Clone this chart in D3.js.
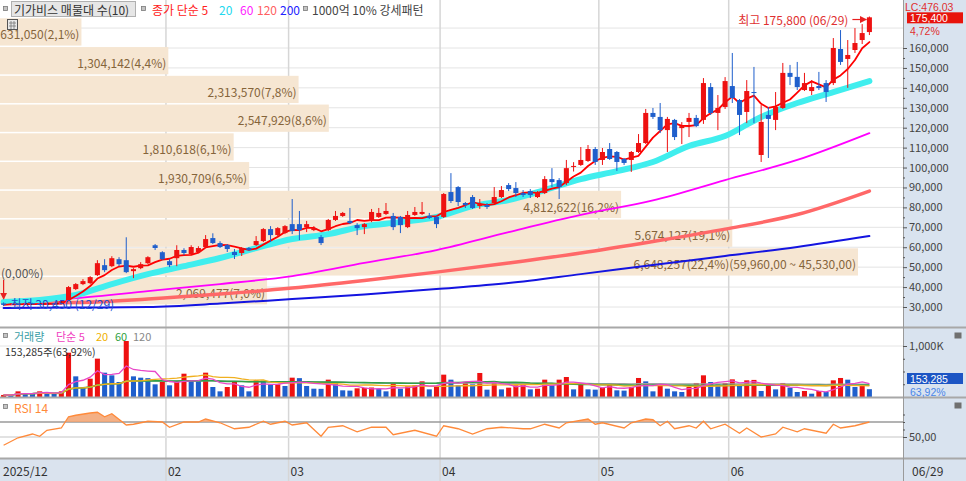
<!DOCTYPE html>
<html>
<head>
<meta charset="utf-8">
<script src="https://cdn.jsdelivr.net/npm/d3@7"></script>
<style>
  body { margin: 0; background: #fff; }
  svg { display: block; font-family: "Noto Sans CJK KR", "Noto Sans", sans-serif; }
  .num { font-family: "Liberation Sans", "DejaVu Sans", sans-serif; }
</style>
</head>
<body>
<svg id="chart" width="966" height="481"></svg>
<script>
// ---- data ----
var dates = ["2025-12-29","2025-12-30",
  "2026-01-02","2026-01-05","2026-01-06","2026-01-07","2026-01-08","2026-01-09","2026-01-12","2026-01-13","2026-01-14","2026-01-15","2026-01-16",
  "2026-01-19","2026-01-20","2026-01-21","2026-01-22","2026-01-23","2026-01-26","2026-01-27","2026-01-28","2026-01-29","2026-01-30",
  "2026-02-02","2026-02-03","2026-02-04","2026-02-05","2026-02-06","2026-02-09","2026-02-10","2026-02-11","2026-02-12","2026-02-13",
  "2026-02-19","2026-02-20","2026-02-23","2026-02-24","2026-02-25","2026-02-26","2026-02-27",
  "2026-03-03","2026-03-04","2026-03-05","2026-03-06","2026-03-09","2026-03-10","2026-03-11","2026-03-12","2026-03-13",
  "2026-03-16","2026-03-17","2026-03-18","2026-03-19","2026-03-20","2026-03-23","2026-03-24","2026-03-25","2026-03-26","2026-03-27","2026-03-30","2026-03-31",
  "2026-04-01","2026-04-02","2026-04-03","2026-04-06","2026-04-07","2026-04-08","2026-04-09","2026-04-10","2026-04-13","2026-04-14","2026-04-15","2026-04-16","2026-04-17",
  "2026-04-20","2026-04-21","2026-04-22","2026-04-23","2026-04-24","2026-04-27","2026-04-28","2026-04-29","2026-04-30",
  "2026-05-04","2026-05-06","2026-05-07","2026-05-08","2026-05-11","2026-05-12","2026-05-13","2026-05-14","2026-05-15",
  "2026-05-18","2026-05-19","2026-05-20","2026-05-21","2026-05-22","2026-05-26","2026-05-27","2026-05-28","2026-05-29",
  "2026-06-01","2026-06-02","2026-06-04","2026-06-05","2026-06-08","2026-06-09","2026-06-10","2026-06-11","2026-06-12",
  "2026-06-15","2026-06-16","2026-06-17","2026-06-18","2026-06-19","2026-06-22","2026-06-23","2026-06-24","2026-06-25","2026-06-26","2026-06-29"];

var open = [31800,31100,31600,31200,31900,31500,31200,31800,31500,33500,
  39000,41500,42000,46000,51000,50500,54000,53500,48000,49500,
  52000,61000,57500,53000,54500,58600,56600,57600,60100,64600,
  62100,61100,57600,57100,59600,61100,63100,69100,66100,67100,
  71600,71600,70100,68600,65100,68600,73700,75700,73200,71100,
  70100,73200,75200,76700,75700,75200,70100,76200,76700,75700,
  75200,75200,87700,90200,82200,85200,80700,81200,82200,85200,
  91200,89700,87200,88200,85200,87200,94200,93700,92200,100300,
  101300,103300,109300,103800,109300,107800,104300,103800,107800,112300,
  127400,125400,118800,123900,119800,122900,124900,123900,140400,127400,
  130400,140900,133900,127900,137900,106300,126400,123900,129900,147500,
  145500,138900,138400,140900,142400,142400,159500,154500,159000,164000,
  168000];
var high = [32300,31900,31800,32200,32100,31700,32000,32000,33500,40500,
  42000,44000,45500,53500,54000,55500,55000,65000,49500,52500,
  55500,61600,58000,54000,61000,59500,61000,60500,66100,67000,
  63000,61600,59100,60100,60100,65600,69600,70600,70100,71100,
  84200,78200,73200,70600,66100,74200,78200,77700,79700,72100,
  72100,79200,79700,82200,77200,75700,78200,80200,82700,77200,
  75700,87200,97200,90700,82700,86200,84200,82200,90200,90700,
  92200,92700,88700,89200,88200,95700,99700,94700,103800,102700,
  110300,111300,110300,109800,112300,108300,104800,108300,116800,129400,
  129900,132400,125400,124400,122800,127400,126400,144900,142400,136400,
  145400,157500,134400,143900,150500,131400,130400,137900,152500,151500,
  153000,147500,143900,148000,143900,165000,169000,164000,170000,172000,
  175800];
var low = [30450,30900,31000,31100,31300,31000,31100,31300,31400,33200,
  38500,41000,41500,45500,47500,50000,50500,47000,44500,49000,
  51500,58600,53500,50000,50500,56000,56000,57000,59600,61600,
  59600,57600,54100,55600,58100,60600,62600,62600,65600,66600,
  66600,63600,67600,68100,61100,68100,73200,75200,71600,66100,
  66600,72600,74700,76200,68600,67100,69600,75700,76200,74200,
  69600,74700,82200,80700,79700,79200,79200,79200,81700,84700,
  88200,85200,85200,84700,84700,86700,90200,84200,91200,98000,
  100800,102800,101300,101300,103800,98300,101300,97800,107300,111800,
  124400,117300,107800,113800,111800,115300,120300,121900,126400,118800,
  129400,132400,116300,122300,122300,102800,104800,118800,129400,141400,
  138900,138400,136400,138900,132900,141400,151500,140000,157500,162000,
  166500];
var close = [31100,31600,31200,31900,31500,31200,31800,31500,33000,40000,
  41500,43000,45000,52000,48500,54500,51500,47500,49000,51500,
  55000,59600,54000,51000,58600,57100,60100,59600,64100,62100,
  60100,59100,56100,59600,58600,63100,69100,66100,69600,70600,
  68100,68600,71600,69600,62100,73700,75700,77200,72100,69600,
  71600,77700,77200,78200,70100,71100,76200,77700,77700,74700,
  71600,86700,83200,82700,81200,79700,81700,80200,85200,88700,
  89200,87200,86200,86200,87700,94200,92700,90200,99700,100800,
  103800,109300,102800,107800,104300,102800,102300,107800,112300,127400,
  125400,118800,124400,115300,120800,124900,120800,142400,127400,129900,
  143400,134900,126400,138400,137400,122900,124400,130400,147500,145500,
  140400,142400,140400,139900,137900,160000,153000,156500,162500,167500,
  175400];
// volume in thousands of shares
var volumeK = [40,30,111,78,75,111,65,60,111,869,
  405,196,359,752,477,425,294,1098,405,379,
  370,248,294,229,294,457,314,305,477,196,
  111,196,307,229,111,327,320,242,250,216,
  379,370,216,163,160,340,281,131,125,170,
  178,186,157,111,275,163,209,229,307,150,
  209,438,340,229,275,248,471,144,294,150,
  183,229,248,150,163,340,229,340,392,150,
  261,150,144,183,275,131,125,196,373,307,
  111,248,163,111,98,196,275,425,294,248,
  275,346,229,327,335,118,242,150,275,183,
  98,118,65,118,98,327,373,340,196,239.808,
  153.285];

// longer moving averages, read at knots (candle index -> price)
var ma20Idx = [0,5,10,15,20,25,30,35,40,45,50,55,60,65,70,75,80,85,90,95,100,105,110,115,120];
var ma20 = [32500,33500,36000,41500,46500,50500,54600,59600,64100,66600,70600,72600,75200,80700,83700,88700,94200,98200,102800,110800,115800,125400,132400,137900,143400];
var maIdx = [0,10,20,30,40,50,60,70,80,90,100,110,120];
var ma60 = [33000,34500,38000,41500,45500,52100,58600,67600,76200,83500,93700,103800,117300];
var ma120 = [32000,32200,34000,36500,39500,43300,47500,52100,57100,62900,69100,76400,88200];
var ma200 = [29500,29700,30000,31700,34000,36300,39000,42000,46500,51100,55600,60100,65600];

// RSI 14 read at knots
var rsiIdx = [0,2,4,5,6,8,9,10,12,13,14,15,17,18,20,22,23,25,27,28,30,32,34,36,37,39,40,42,44,45,
  47,49,51,53,54,57,60,61,63,65,67,69,72,73,75,77,78,81,82,83,86,87,89,90,91,92,93,95,96,97,
  98,100,102,103,105,107,108,110,111,114,115,116,118,120];
var rsiVal = [39,49,54,51,59,62,77,79,82,83,77,81,66,67,71,70,63,70,70,74,69,61,63,71,67,71,66,69,51,63,
  65,57,63,63,53,59,51,65,61,54,61,63,61,61,67,62,69,74,67,69,62,69,74,73,65,71,61,65,62,71,
  61,67,55,62,50,54,63,57,61,55,67,62,65,70];

// volume profile (매물대), bottom band first
var profileVol = [2069477,6648257,5674127,4812622,1930709,1810618,2547929,2313570,1304142,631050];

var tickDates = ["2025-12-29","2026-02-02","2026-03-03","2026-04-01","2026-05-04","2026-06-01"];
var tickLabels = ["2025/12","02","03","04","05","06"];
var priceTicks = [30000,40000,50000,60000,70000,80000,90000,100000,110000,120000,130000,140000,150000,160000];

// ---- setup ----
var svg = d3.select("#chart");
var N = dates.length;
var plotW = 903;
var UP = "#ee1111", DOWN = "#1f5fcc";
var volume = volumeK.map(function (v) { return v * 1000; });

var x = d3.scaleBand().domain(d3.range(N)).range([0, 873]).paddingInner(0.3).paddingOuter(0.15);
var step = x.step();
function cx(i) { return x(i) + x.bandwidth() / 2; }
var y = d3.scaleLinear().domain([30000, 160000]).range([307, 48]);
var yV = d3.scaleLinear().domain([0, 1000000]).range([397, 346]);
var yR = d3.scaleLinear().domain([50, 70]).range([437, 422]);

var comma = d3.format(",");
function dec(s) { return s.replace(".", ","); } // the HTS shows decimals with a comma
function f2(v) { return dec(d3.format(".2f")(v)); }

var defs = svg.append("defs");
[["clipP", 0, 0, plotW, 327], ["clipV", 0, 328, plotW, 69], ["clipR", 0, 398, plotW, 60],
 ["clipHot", 0, 398, plotW, yR(70) - 398]].forEach(function (c) {
  defs.append("clipPath").attr("id", c[0]).append("rect")
    .attr("x", c[1]).attr("y", c[2]).attr("width", c[3]).attr("height", c[4]);
});

svg.append("rect").attr("width", 966).attr("height", 481).attr("fill", "#fff");
// right axis background + date axis background
svg.append("rect").attr("x", plotW).attr("y", 0).attr("width", 966 - plotW).attr("height", 481).attr("fill", "#d9e3ef");
svg.append("rect").attr("x", 0).attr("y", 459).attr("width", plotW).attr("height", 22).attr("fill", "#dae3ee");

// ---- grid ----
var grid = svg.append("g");
grid.selectAll("line.h").data(d3.range(30000, 180000, 10000)).join("line")
  .attr("x1", 0).attr("x2", plotW).attr("y1", function (d) { return y(d); }).attr("y2", function (d) { return y(d); })
  .attr("stroke", "#e4e4e4");
grid.append("line").attr("x1", 0).attr("x2", plotW).attr("y1", yV(1000000)).attr("y2", yV(1000000)).attr("stroke", "#e4e4e4");
var tickIdx = tickDates.map(function (d) { return dates.indexOf(d); });
grid.selectAll("line.v").data(tickIdx.slice(1)).join("line")
  .attr("x1", function (i) { return cx(i) - step / 2; }).attr("x2", function (i) { return cx(i) - step / 2; })
  .attr("y1", 0).attr("y2", 481).attr("stroke", "#d6d6d6").attr("stroke-width", 1.5);

// ---- volume profile boxes ----
var cMin = d3.min(close), cMax = d3.max(close);
var band = (cMax - cMin) / profileVol.length;
var totalP = d3.sum(profileVol), maxP = d3.max(profileVol);
var xP = d3.scaleLinear().domain([0, maxP]).range([0, 858]);
var prof = svg.append("g").attr("clip-path", "url(#clipP)");
prof.selectAll("rect").data(profileVol).join("rect")
  .attr("x", 0).attr("width", function (d) { return xP(d); })
  .attr("y", function (d, k) { return y(cMin + (k + 1) * band) + 1; })
  .attr("height", function (d, k) { return y(cMin + k * band) - y(cMin + (k + 1) * band) - 1.5; })
  .attr("fill", "#f6e6d2");
prof.selectAll("text").data(profileVol).join("text")
  .attr("x", function (d) { return xP(d) - 2; })
  .attr("y", function (d, k) { return y(cMin + (k + 0.5) * band) + 2; })
  .attr("text-anchor", "end").attr("dominant-baseline", "central")
  .attr("font-size", 12).attr("fill", "#85643a")
  .text(function (d, k) {
    var s = comma(d) + "(" + dec(d3.format(".1f")(d / totalP * 100)) + "%)";
    if (d === maxP) s += "(" + dec(d3.format(",.2f")(cMin + (k + 1) * band)) + " ~ " + dec(d3.format(",.2f")(cMin + k * band)) + ")";
    return s;
  });

// ---- price moving averages ----
function knotLine(idx, vals, scale) {
  return d3.line().curve(d3.curveMonotoneX)
    .x(function (d, k) { return cx(idx[k]); })
    .y(function (d) { return scale(d); })(vals);
}
var maG = svg.append("g").attr("clip-path", "url(#clipP)").attr("fill", "none")
  .attr("stroke-linejoin", "round").attr("stroke-linecap", "round");
maG.append("path").attr("d", knotLine(maIdx, ma200, y)).attr("stroke", "#1414e0").attr("stroke-width", 2);
maG.append("path").attr("d", knotLine(maIdx, ma120, y)).attr("stroke", "#ff6868").attr("stroke-width", 3.5);
maG.append("path").attr("d", knotLine(maIdx, ma60, y)).attr("stroke", "#ff00ff").attr("stroke-width", 1.8);
maG.append("path").attr("d", knotLine(ma20Idx, ma20, y)).attr("stroke", "#40eeee").attr("stroke-width", 6);

// ---- candles ----
var idx = d3.range(N);
function cColor(i) { return close[i] >= open[i] ? UP : DOWN; }
var cg = svg.append("g").attr("clip-path", "url(#clipP)");
cg.selectAll("line").data(idx).join("line")
  .attr("x1", cx).attr("x2", cx)
  .attr("y1", function (i) { return y(high[i]); }).attr("y2", function (i) { return y(low[i]); })
  .attr("stroke", cColor).attr("stroke-width", 1);
cg.selectAll("rect").data(idx).join("rect")
  .attr("x", function (i) { return x(i); }).attr("width", x.bandwidth())
  .attr("y", function (i) { return y(Math.max(open[i], close[i])); })
  .attr("height", function (i) { return Math.max(1, Math.abs(y(open[i]) - y(close[i]))); })
  .attr("fill", cColor);

// 5-day simple average of the closes
function sma(arr, n) {
  return arr.map(function (_, i) { return d3.mean(arr.slice(Math.max(0, i - n + 1), i + 1)); });
}
var ma5 = sma(close, 5);
maG.append("path").datum(ma5).attr("d", d3.line().x(function (d, i) { return cx(i); }).y(function (d) { return y(d); }))
  .attr("stroke", "#ff0000").attr("stroke-width", 1.8);

// ---- high / low annotations ----
var ann = svg.append("g");
defs.append("marker").attr("id", "arrow").attr("viewBox", "0 0 10 10").attr("refX", 9).attr("refY", 5)
  .attr("markerWidth", 6).attr("markerHeight", 6).attr("orient", "auto-start-reverse")
  .append("path").attr("d", "M0,0L10,5L0,10z").attr("fill", "#e82020");
var iHi = d3.maxIndex(high), iLo = d3.minIndex(low);
var hi = high[iHi], lo = low[iLo];
function md(d) { return d.slice(5, 7) + "/" + d.slice(8, 10); }
var yHi = y(hi) + 3;
ann.append("text").attr("x", cx(iHi) - 21).attr("y", yHi).attr("text-anchor", "end").attr("dominant-baseline", "central")
  .attr("font-size", 12).attr("fill", "#e03030").text("최고 " + comma(hi) + " (" + md(dates[iHi]) + ")");
ann.append("line").attr("x1", cx(iHi) - 17).attr("x2", cx(iHi) - 3).attr("y1", yHi).attr("y2", yHi)
  .attr("stroke", "#e82020").attr("stroke-width", 1.2).attr("marker-end", "url(#arrow)");
ann.append("text").attr("x", 1).attr("y", y(lo) - 34).attr("dominant-baseline", "central")
  .attr("font-size", 12).attr("fill", "#555").text("(" + f2(0) + "%)");
ann.append("line").attr("x1", cx(iLo)).attr("x2", cx(iLo)).attr("y1", y(lo) - 26).attr("y2", y(lo) - 7)
  .attr("stroke", "#e82020").attr("stroke-width", 1.2).attr("marker-end", "url(#arrow)");
ann.append("text").attr("x", cx(iLo) + 7).attr("y", y(lo) - 3).attr("dominant-baseline", "central")
  .attr("font-size", 12).attr("fill", "#2050d0").text("최저 " + comma(lo) + " (" + md(dates[iLo]) + ")");
// grid icon
ann.append("rect").attr("x", 7.5).attr("y", 19.5).attr("width", 10).attr("height", 10).attr("fill", "#e8e8e8").attr("stroke", "#555");
ann.append("path").attr("d", "M9,23H16M9,26H16M11,21V29M14,21V29").attr("stroke", "#777").attr("stroke-width", 0.8);

// ---- volume panel ----
var vg = svg.append("g").attr("clip-path", "url(#clipV)");
vg.selectAll("rect").data(idx).join("rect")
  .attr("x", function (i) { return x(i); }).attr("width", x.bandwidth())
  .attr("y", function (i) { return yV(volume[i]); })
  .attr("height", function (i) { return yV(0) - yV(volume[i]); })
  .attr("fill", function (i) { return i > 0 && volume[i] > volume[i - 1] ? UP : (i === 0 ? UP : DOWN); });
var vLine = d3.line().x(function (d, i) { return cx(i); }).y(function (d) { return yV(d); });
[[120, "#a0a0a0", 1.3], [60, "#2fa048", 1.6], [20, "#f0b020", 1.3], [5, "#e848c8", 1.3]].forEach(function (m) {
  vg.append("path").datum(sma(volume, m[0])).attr("d", vLine).attr("fill", "none")
    .attr("stroke", m[1]).attr("stroke-width", m[2]);
});

// ---- RSI panel ----
var rg = svg.append("g").attr("clip-path", "url(#clipR)");
rg.append("line").attr("x1", 0).attr("x2", plotW).attr("y1", yR(50)).attr("y2", yR(50)).attr("stroke", "#e2e2e2").attr("stroke-width", 2);
rg.append("line").attr("x1", 0).attr("x2", plotW).attr("y1", yR(70)).attr("y2", yR(70)).attr("stroke", "#9a9a9a").attr("stroke-width", 1.5);
rg.append("path").datum(rsiVal).attr("clip-path", "url(#clipHot)")
  .attr("d", d3.area().x(function (d, k) { return cx(rsiIdx[k]); }).y0(yR(70)).y1(function (d) { return yR(d); }))
  .attr("fill", "#f2a270").attr("opacity", 0.85);
rg.append("path").datum(rsiVal)
  .attr("d", d3.line().x(function (d, k) { return cx(rsiIdx[k]); }).y(function (d) { return yR(d); }))
  .attr("fill", "none").attr("stroke", "#ff8a3a").attr("stroke-width", 1.3);

// ---- panel separators ----
var sep = svg.append("g").attr("stroke", "#a8a8a8").attr("stroke-width", 2);
[327.5, 397.5, 458.5].forEach(function (yy) { sep.append("line").attr("x1", 0).attr("x2", 966).attr("y1", yy).attr("y2", yy); });
svg.append("line").attr("x1", plotW + 0.5).attr("x2", plotW + 0.5).attr("y1", 0).attr("y2", 481).attr("stroke", "#9a9a9a");

// ---- right axes ----
function styleAxis(g) {
  g.select(".domain").remove();
  g.attr("font-family", null).attr("font-size", null);
  g.selectAll("text").attr("font-size", 11).attr("fill", "#444");
  g.selectAll("line").attr("stroke", "#555");
}
var pAx = svg.append("g").attr("transform", "translate(" + plotW + ",0)")
  .call(d3.axisRight(y).tickValues(priceTicks).tickFormat(comma).tickSize(4).tickPadding(2));
styleAxis(pAx);
var pMinor = svg.append("g").attr("transform", "translate(" + plotW + ",0)")
  .call(d3.axisRight(y).tickValues(d3.range(35000, 165000, 10000)).tickFormat("").tickSize(2));
styleAxis(pMinor);

var vAx = svg.append("g").attr("transform", "translate(" + plotW + ",0)")
  .call(d3.axisRight(yV).tickValues([1000000]).tickFormat(function (d) { return comma(d / 1000) + "K"; }).tickSize(4).tickPadding(2));
styleAxis(vAx);
var vMinor = svg.append("g").attr("transform", "translate(" + plotW + ",0)")
  .call(d3.axisRight(yV).tickValues([250000, 500000, 750000]).tickFormat("").tickSize(2));
styleAxis(vMinor);

var rAx = svg.append("g").attr("transform", "translate(" + plotW + ",0)")
  .call(d3.axisRight(yR).tickValues([50]).tickFormat(function (d) { return f2(d); }).tickSize(4).tickPadding(2));
styleAxis(rAx);
var rMinor = svg.append("g").attr("transform", "translate(" + plotW + ",0)")
  .call(d3.axisRight(yR).tickValues([60, 70, 80]).tickFormat("").tickSize(2));
styleAxis(rMinor);

// current price / ratio labels on the axis
var last = close[N - 1], prev = close[N - 2];
var lab = svg.append("g").attr("class", "num").attr("font-size", 10.5).attr("dominant-baseline", "central");
lab.append("text").attr("x", 905).attr("y", 6.5).attr("fill", "#e03030").text("LC:" + f2((last - lo) / lo * 100));
lab.append("rect").attr("x", 907).attr("y", y(last) - 5).attr("width", 56).attr("height", 11).attr("fill", "#e8140c");
lab.append("text").attr("x", 910).attr("y", y(last) + 0.8).attr("fill", "#fff").text(comma(last));
lab.append("text").attr("x", 910).attr("y", y(last) + 13.5).attr("fill", "#e03030").text(f2((last / prev - 1) * 100) + "%");
var vLast = volume[N - 1], vRatio = vLast / volume[N - 2] * 100;
var yVb = Math.min(yV(vLast), 378.5);
lab.append("rect").attr("x", 907).attr("y", yVb - 5.5).attr("width", 56).attr("height", 11).attr("fill", "#1c55c4");
lab.append("text").attr("x", 910).attr("y", yVb).attr("fill", "#fff").text(comma(vLast));
lab.append("text").attr("x", 910).attr("y", yVb + 13).attr("fill", "#4a86e8").text(f2(vRatio) + "%");
// small panel buttons
[332, 402].forEach(function (yy) {
  svg.append("rect").attr("x", 954.5).attr("y", yy + 0.5).attr("width", 7).attr("height", 6).attr("fill", "#707070");
});

// ---- date axis ----
var dAx = svg.append("g").attr("font-size", 12).attr("fill", "#333").attr("dominant-baseline", "central");
dAx.selectAll("text").data(tickIdx).join("text")
  .attr("x", function (i, k) { return k === 0 ? 3 : cx(i) - step / 2 + 2; })
  .attr("y", 470)
  .text(function (i, k) { return tickLabels[k]; });
dAx.append("text").attr("x", 912).attr("y", 470).text(md(dates[N - 1]));

// ---- headers ----
function sq(g, xx, yy) {
  g.append("rect").attr("x", xx + 0.5).attr("y", yy + 0.5).attr("width", 4).attr("height", 4)
    .attr("fill", "#c4c4c4").attr("stroke", "#7a7a7a").attr("stroke-width", 0.8);
}
var hd = svg.append("g").attr("font-size", 12).attr("dominant-baseline", "central");
sq(hd, 3, 6);
hd.append("rect").attr("x", 11.5).attr("y", 1.5).attr("width", 124).attr("height", 15).attr("fill", "#e6e6e6").attr("stroke", "#b0b0b0");
hd.append("text").attr("x", 14).attr("y", 9).attr("fill", "#333").text("기가비스 매물대 수(10)");
sq(hd, 141, 6);
[[152, "종가 단순 5", "#ff2020"], [219, "20", "#22d8ee"], [240, "60", "#ff22ff"], [257, "120", "#ff6060"], [280, "200", "#2222ff"]]
  .forEach(function (t) { hd.append("text").attr("x", t[0]).attr("y", 9).attr("fill", t[2]).text(t[1]); });
sq(hd, 303, 6);
hd.append("text").attr("x", 312).attr("y", 9).attr("fill", "#444").text("1000억 10% 강세패턴");

sq(hd, 3, 333);
[[14, "거래량", "#3a9ea6"], [56, "단순 5", "#f040c0"], [96, "20", "#f0b000"], [115, "60", "#30a040"], [133, "120", "#888"]]
  .forEach(function (t) { hd.append("text").attr("x", t[0]).attr("y", 336).attr("fill", t[2]).attr("font-size", 11).text(t[1]); });
hd.append("text").attr("x", 5).attr("y", 351).attr("fill", "#333").attr("font-size", 10.5).text(comma(vLast) + "주(" + f2(vRatio) + "%)");

sq(hd, 3, 404);
hd.append("text").attr("x", 14).attr("y", 407).attr("fill", "#ff8a3a").text("RSI 14");
</script>
</body>
</html>
